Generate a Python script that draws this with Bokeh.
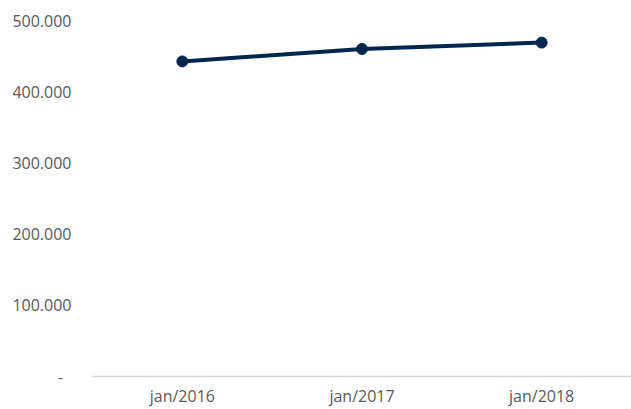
from bokeh.plotting import figure
from bokeh.models import FactorRange, Range1d, FixedTicker, ColumnDataSource
from bokeh.embed import file_html
from bokeh.resources import INLINE

categories = ["jan/2016", "jan/2017", "jan/2018"]
values = [442500, 460000, 469000]
y_ticks = [0, 100000, 200000, 300000, 400000, 500000]
y_tick_labels = ["-\u00a0\u00a0", "100.000", "200.000", "300.000", "400.000", "500.000"]

FONT = "Open Sans"
TEXT = "#595959"
NAVY = "#00264d"

p = figure(
    width=631, height=409,
    x_range=FactorRange(factors=categories),
    y_range=Range1d(0, 500000),
    output_backend="svg", toolbar_location=None,
    min_border_left=92, min_border_right=0, min_border_top=20, min_border_bottom=32,
)
p.outline_line_color = None
p.background_fill_color = "white"
p.border_fill_color = "white"
p.xgrid.visible = False
p.ygrid.visible = False

src = ColumnDataSource(dict(x=categories, y=values))
p.line("x", "y", source=src, line_color=NAVY, line_width=4)
p.scatter("x", "y", source=src, size=11, fill_color=NAVY, line_color=NAVY)

ya = p.yaxis[0]
ya.ticker = FixedTicker(ticks=y_ticks)
ya.major_label_overrides = {t: l for t, l in zip(y_ticks, y_tick_labels)}
ya.axis_line_color = None
ya.major_tick_line_color = None
ya.minor_tick_line_color = None
ya.major_tick_out = 0
ya.major_tick_in = 0
ya.major_label_standoff = 21
ya.major_label_text_font = FONT
ya.major_label_text_font_size = "16px"
ya.major_label_text_color = TEXT

xa = p.xaxis[0]
xa.axis_line_color = "#d9d9d9"
xa.axis_line_width = 1.5
xa.major_tick_line_color = None
xa.minor_tick_line_color = None
xa.major_tick_out = 0
xa.major_tick_in = 0
xa.major_label_standoff = 8
xa.major_label_text_font = FONT
xa.major_label_text_font_size = "16px"
xa.major_label_text_color = TEXT

open("out.html", "w").write(file_html(p, INLINE))
